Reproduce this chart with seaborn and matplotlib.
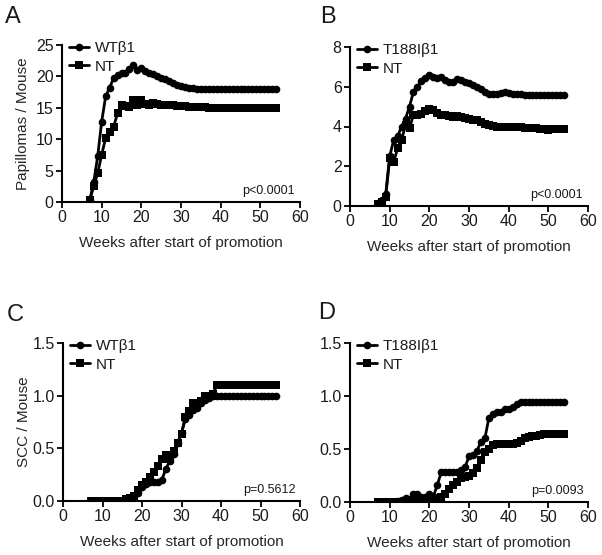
import numpy as np
import pandas as pd
import matplotlib
matplotlib.use("Agg")
import matplotlib.pyplot as plt
import seaborn as sns

weeks = list(range(7, 55))

a_wt = [0.3, 3.2, 7.3, 12.8, 16.8, 18.2, 19.7, 20.2, 20.5, 20.6, 21.2, 21.8, 21.0, 21.3,
        20.8, 20.6, 20.4, 20.1, 19.8, 19.6, 19.3, 18.9, 18.6, 18.4, 18.3, 18.2, 18.1, 18.0] + [18.0] * 20
a_nt = [0.3, 2.5, 4.6, 7.5, 10.2, 11.2, 12.0, 14.1, 15.5, 15.3, 15.2, 16.2, 15.4, 16.2,
        15.6, 15.5, 15.7, 15.6, 15.5, 15.5, 15.4, 15.4, 15.3, 15.3, 15.3, 15.2, 15.2, 15.2,
        15.1, 15.1] + [15.0] * 18

b_mut = [0.13, 0.3, 0.6, 2.5, 3.3, 3.5, 4.0, 4.4, 5.0, 5.75, 6.0, 6.3, 6.45, 6.6,
         6.5, 6.45, 6.5, 6.35, 6.25, 6.25, 6.4, 6.35, 6.25, 6.17, 6.1, 6.0, 5.9, 5.75,
         5.64, 5.62, 5.65, 5.7, 5.72, 5.7, 5.66, 5.64, 5.62, 5.6] + [5.6] * 10
b_nt = [0.1, 0.2, 0.45, 2.4, 2.2, 2.9, 3.3, 4.1, 3.9, 4.6, 4.6, 4.65, 4.8, 4.9,
        4.85, 4.7, 4.58, 4.58, 4.55, 4.5, 4.52, 4.48, 4.42, 4.4, 4.35, 4.33, 4.25, 4.15,
        4.08, 4.03, 4.0, 3.99, 3.98, 3.98, 3.99, 3.99, 3.96, 3.94, 3.92, 3.91, 3.9, 3.88,
        3.85, 3.82, 3.85, 3.88, 3.88, 3.88]

c_wt = [0.0] * 9 + [0.0, 0.02, 0.05, 0.08, 0.13, 0.16, 0.18, 0.18, 0.18, 0.2, 0.3, 0.38,
                    0.45, 0.55, 0.65, 0.78, 0.82, 0.86, 0.88, 0.93, 0.96, 0.98] + [1.0] * 17
c_nt = [0.0] * 9 + [0.02, 0.03, 0.05, 0.1, 0.15, 0.18, 0.23, 0.28, 0.33, 0.4, 0.44, 0.4,
                    0.47, 0.55, 0.64, 0.8, 0.85, 0.93, 0.9, 0.95, 1.0, 1.0, 1.02] + [1.1] * 16

d_mut = [0.0] * 5 + [0.01, 0.02, 0.04, 0.02, 0.08, 0.08, 0.05, 0.05, 0.08, 0.05, 0.16, 0.28,
                     0.28, 0.28, 0.28, 0.28, 0.3, 0.33, 0.43, 0.44, 0.48, 0.57, 0.6, 0.79,
                     0.83, 0.85, 0.85, 0.88, 0.88, 0.9, 0.92, 0.94] + [0.94] * 11
d_nt = [0.0] * 9 + [0.02, 0.03, 0.03, 0.03, 0.03, 0.03, 0.04, 0.05, 0.08, 0.12, 0.16, 0.19,
                    0.23, 0.24, 0.25, 0.27, 0.32, 0.4, 0.47, 0.5, 0.54, 0.55, 0.55, 0.55,
                    0.55, 0.55, 0.56, 0.58, 0.6, 0.61, 0.62, 0.62, 0.63, 0.64] + [0.64] * 5

panels = [
    dict(letter="A", series=(a_wt, a_nt), labels=("WTβ1", "NT"), ylim=25, yticks=[0, 5, 10, 15, 20, 25],
         yfmt="{:.0f}", ylabel="Papillomas / Mouse", p="p<0.0001",
         rect=(62, 45, 300, 202)),
    dict(letter="B", series=(b_mut, b_nt), labels=("T188Iβ1", "NT"), ylim=8, yticks=[0, 2, 4, 6, 8],
         yfmt="{:.0f}", ylabel=None, p="p<0.0001",
         rect=(350, 47, 588, 206)),
    dict(letter="C", series=(c_wt, c_nt), labels=("WTβ1", "NT"), ylim=1.5, yticks=[0, 0.5, 1.0, 1.5],
         yfmt="{:.1f}", ylabel="SCC / Mouse", p="p=0.5612",
         rect=(63, 343, 300, 501)),
    dict(letter="D", series=(d_mut, d_nt), labels=("T188Iβ1", "NT"), ylim=1.5, yticks=[0, 0.5, 1.0, 1.5],
         yfmt="{:.1f}", ylabel=None, p="p=0.0093",
         rect=(350, 343, 588, 502)),
]
letter_pos = {"A": (5, 6), "B": (320, 6), "C": (7, 304), "D": (318, 302)}

sns.set_style("ticks")
plt.rcParams["font.family"] = ["Liberation Sans", "DejaVu Sans"]
plt.rcParams["text.color"] = "#1a1a1a"

W, H = 602, 555
fig = plt.figure(figsize=(W / 100, H / 100), dpi=100)

for pn in panels:
    x0, y0, x1, y1 = pn["rect"]
    ax = fig.add_axes([x0 / W, 1 - y1 / H, (x1 - x0) / W, (y1 - y0) / H])
    s1, s2 = pn["series"]
    l1, l2 = pn["labels"]
    sns.lineplot(x=weeks, y=s1, ax=ax, color="black", marker="o", markersize=5.5,
                 markeredgewidth=0, linewidth=2.0, label=l1)
    sns.lineplot(x=weeks, y=s2, ax=ax, color="black", marker="s", markersize=5.5,
                 markeredgewidth=0, linewidth=2.0, label=l2)
    ax.set_xlim(0, 60)
    ax.set_ylim(0, pn["ylim"])
    ax.set_xticks([0, 10, 20, 30, 40, 50, 60])
    ax.set_yticks(pn["yticks"])
    ax.set_yticklabels([pn["yfmt"].format(v) for v in pn["yticks"]])
    ax.tick_params(direction="out", length=4, width=1.3, labelsize=11.5, colors="black",
                   labelcolor="#1a1a1a", pad=2)
    for s in ("left", "bottom"):
        ax.spines[s].set_linewidth(1.5)
        ax.spines[s].set_color("black")
    sns.despine(ax=ax)
    ax.set_xlabel("Weeks after start of promotion", fontsize=11, labelpad=8)
    if pn["ylabel"]:
        ax.set_ylabel(pn["ylabel"], fontsize=11)
        ax.yaxis.set_label_coords(-0.135, 0.5)
    else:
        ax.set_ylabel("")
    ax.legend(loc="upper left", bbox_to_anchor=(0.03, 1.025), frameon=False, fontsize=11,
              handlelength=1.3, handletextpad=0.4, labelspacing=0.3, borderpad=0,
              borderaxespad=0)
    ax.text(0.98, 0.03, pn["p"], transform=ax.transAxes, ha="right", va="bottom", fontsize=9)
    lx, ly = letter_pos[pn["letter"]]
    fig.text(lx / W, 1 - ly / H, pn["letter"], fontsize=17, ha="left", va="top")

fig.savefig("out.png", dpi=100)
